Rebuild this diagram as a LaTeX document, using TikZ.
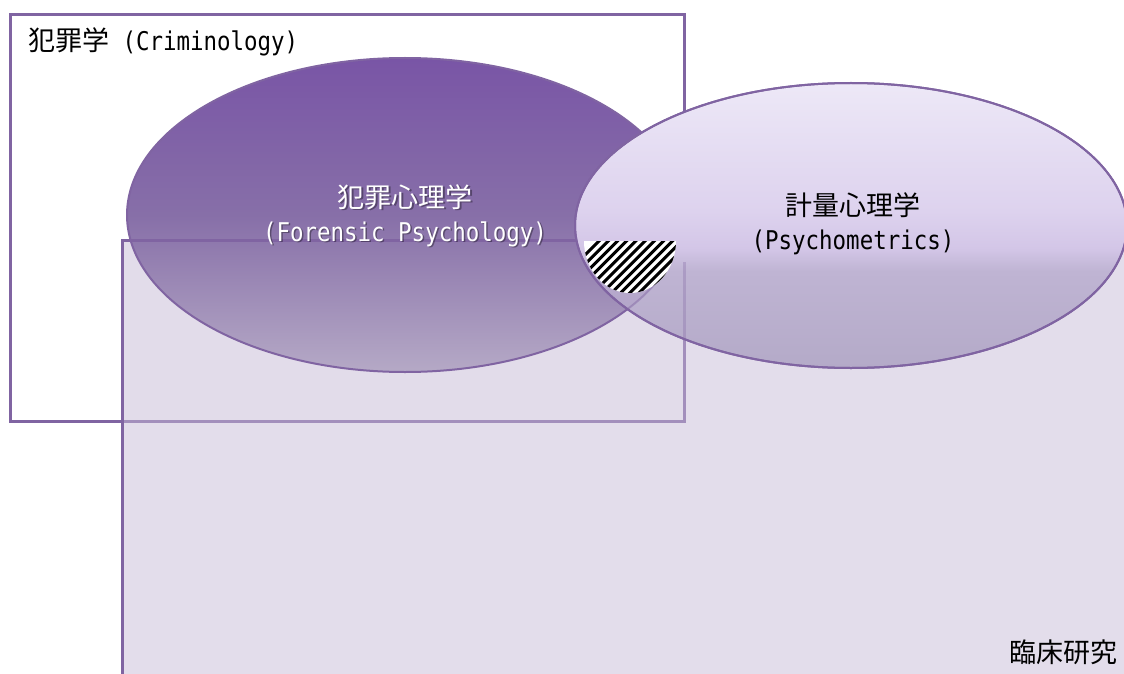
\documentclass[tikz,border=0pt]{standalone}
\usepackage{fontspec}
\newfontfamily\jpfam{Noto Sans CJK JP}
\newfontfamily\monofam[FakeStretch=0.87]{DejaVu Sans Mono}
\newcommand\jpf{\jpfam\fontsize{27}{30}\selectfont}
\newcommand\mnf{\monofam\fontsize{25.8}{30}\selectfont}
\usetikzlibrary{shapes.geometric}

\definecolor{brd}{HTML}{8064A2}
\definecolor{clinfill}{HTML}{C7BBD7}
\definecolor{fTop}{HTML}{7955A6}
\definecolor{fMid}{HTML}{876FA8}
\definecolor{fBot}{HTML}{B5A9C6}
\definecolor{pA}{HTML}{EDE8F7}
\definecolor{pB}{HTML}{DDD2EE}
\definecolor{pC}{HTML}{D3C6E7}
\definecolor{pD}{HTML}{BFB4D3}
\definecolor{pE}{HTML}{B4AAC8}

\pgfdeclareverticalshading{forsh}{100bp}{color(0bp)=(fBot); color(25bp)=(fBot); color(50bp)=(fMid); color(75bp)=(fTop); color(100bp)=(fTop)}
\pgfdeclareverticalshading{psysh}{100bp}{color(0bp)=(pE); color(25bp)=(pE); color(42bp)=(pD); color(46bp)=(pC); color(52.5bp)=(pB); color(75bp)=(pA); color(100bp)=(pA)}

\tikzset{
  boxframe/.style={rectangle, draw=brd, line width=3pt, inner sep=0pt, outer sep=0pt, anchor=north west},
  field/.style={ellipse, draw=brd, line width=2pt, inner sep=0pt, outer sep=0pt},
  lbl/.style={inner sep=0pt, outer sep=0pt},
  hatchline/.style={black, line width=3pt},
}

\begin{document}
\begin{tikzpicture}[x=1pt,y=-1pt]
\useasboundingbox (0,0) rectangle (1124,674);
\clip (0,0) rectangle (1124,674);

% Criminology box
\node[boxframe, fill=white, minimum width=674pt, minimum height=406pt] (crim) at (10,15) {};

% Clinical research box fill (translucent)
\node[rectangle, anchor=north west, inner sep=0pt, outer sep=0pt, fill=clinfill, fill opacity=0.5,
      minimum width=1040pt, minimum height=460pt] (clin) at (122,240) {};

% Forensic psychology ellipse
\node[field, shading=forsh, minimum width=556pt, minimum height=314pt] (foren) at (405,215) {};

% Clinical box border
\draw[brd, line width=3pt] (clin.north west) rectangle (clin.south east);

% Psychometrics ellipse
\node[field, shading=psysh, minimum width=552pt, minimum height=285pt] (psy) at (851,225.5) {};

% faint show-through in the lower part of the psychometrics ellipse
\begin{scope}
  \clip (psy.center) ellipse[x radius=275, y radius=141.5];
  \clip (500,262) rectangle (1124,400);
  \fill[fTop, opacity=0.10] (foren.center) ellipse[x radius=278, y radius=157];
  \draw[brd, line width=2pt, opacity=0.45] (foren.center) ellipse[x radius=278, y radius=157];
  \draw[brd, line width=3pt, opacity=0.3] (crim.north east) -- (crim.south east);
\end{scope}
\draw[brd, line width=2pt] (psy.center) ellipse[x radius=276, y radius=142.5];

% Hatched half disc
\coordinate (hatchL) at (584,241);
\path[fill=white] (hatchL) arc[start angle=180, end angle=0, x radius=46, y radius=52] -- cycle;
\begin{scope}
  \clip (hatchL) arc[start angle=180, end angle=0, x radius=46, y radius=52] -- cycle;
  \foreach \k in {0,...,20} {
    \draw[hatchline] (530+\k*9.2,310) -- (600+\k*9.2,240);
  }
\end{scope}

% Labels
\node[lbl, anchor=west] (crimlbl) at (28,42) {\jpf 犯罪学\mnf{} (Criminology)};

\node[lbl, text=black, opacity=0.35] (forenA s) at (406.5,198.5) {\jpf 犯罪心理学};
\node[lbl, text=black, opacity=0.35] (forenB s) at (406.5,235.5) {\mnf (Forensic Psychology)};
\node[lbl, text=white] (forenA) at (405,197) {\jpf 犯罪心理学};
\node[lbl, text=white] (forenB) at (405,234) {\mnf (Forensic Psychology)};

\node[lbl, text=black] (psyA) at (853,205) {\jpf 計量心理学};
\node[lbl, text=black] (psyB) at (853,242) {\mnf (Psychometrics)};

\node[lbl, anchor=east, text=black] (clinlbl) at (1117,652) {\jpf 臨床研究};
\end{tikzpicture}
\end{document}
